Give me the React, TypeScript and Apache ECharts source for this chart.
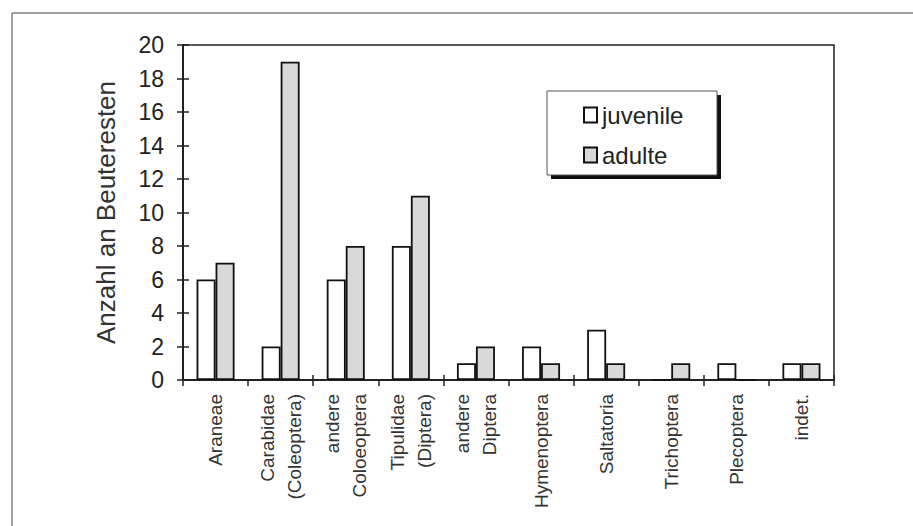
import React, { useEffect, useRef } from "react";
import * as echarts from "echarts";

const categories = [
  "Araneae",
  "Carabidae\n(Coleoptera)",
  "andere\nColoeoptera",
  "Tipulidae\n(Diptera)",
  "andere\nDiptera",
  "Hymenoptera",
  "Saltatoria",
  "Trichoptera",
  "Plecoptera",
  "indet.",
];
const juvenile = [6, 2, 6, 8, 1, 2, 3, 0, 1, 1];
const adulte = [7, 19, 8, 11, 2, 1, 1, 1, 0, 1];
const seriesNames = ["juvenile", "adulte"];
const yAxisName = "Anzahl an Beuteresten";
const yMin = 0;
const yMax = 20;
const yInterval = 2;

const FONT = "'Liberation Sans', Arial, sans-serif";

export default function App() {
  const ref = useRef<HTMLDivElement>(null);
  useEffect(() => {
    if (!ref.current) return;
    const chart = echarts.init(ref.current, null, { renderer: "svg" });
    chart.setOption({
      animation: false,
      backgroundColor: "#ffffff",
      grid: {
        left: 183,
        top: 45,
        right: 79,
        bottom: 146,
        show: true,
        borderColor: "#222",
        borderWidth: 1.5,
        backgroundColor: "transparent",
      },
      legend: {
        data: seriesNames,
        orient: "vertical",
        left: 578,
        top: 98,
        itemWidth: 13,
        itemHeight: 15,
        itemGap: 16,
        icon: "rect",
        textStyle: { fontFamily: FONT, fontSize: 24, color: "#222", padding: [0, 0, 0, 0] },
        z: 10,
      },
      xAxis: [
        {
          type: "category",
          data: categories,
          position: "bottom",
          axisLine: { show: true, lineStyle: { color: "#222", width: 2 } },
          axisTick: { show: true, inside: false, length: 6, lineStyle: { color: "#222", width: 1.5 } },
          axisLabel: {
            rotate: 90,
            interval: 0,
            margin: 14,
            fontFamily: FONT,
            fontSize: 19,
            color: "#333",
            lineHeight: 27,
          },
          splitLine: { show: false },
        },
        {
          type: "category",
          data: categories,
          position: "bottom",
          axisLine: { show: false },
          axisTick: { show: true, inside: true, length: 5, lineStyle: { color: "#222", width: 1.5 } },
          axisLabel: { show: false },
          splitLine: { show: false },
        },
      ],
      yAxis: [
        {
          type: "value",
          min: yMin,
          max: yMax,
          interval: yInterval,
          position: "left",
          name: yAxisName,
          nameLocation: "middle",
          nameGap: 64,
          nameTextStyle: { fontFamily: FONT, fontSize: 26, color: "#333" },
          axisLine: { show: true, lineStyle: { color: "#222", width: 2 } },
          axisTick: { show: true, inside: false, length: 6, lineStyle: { color: "#222", width: 1.5 } },
          axisLabel: { fontFamily: FONT, fontSize: 23, color: "#222", margin: 19 },
          splitLine: { show: false },
        },
        {
          type: "value",
          min: yMin,
          max: yMax,
          interval: yInterval,
          position: "left",
          axisLine: { show: false },
          axisTick: { show: true, inside: true, length: 6, lineStyle: { color: "#222", width: 1.5 } },
          axisLabel: { show: false },
          splitLine: { show: false },
        },
      ],
      series: [
        {
          name: seriesNames[0],
          type: "bar",
          data: juvenile,
          xAxisIndex: 0,
          yAxisIndex: 0,
          barWidth: 19,
          barGap: "0%",
          itemStyle: { color: "#ffffff", borderColor: "#111", borderWidth: 1.8 },
        },
        {
          name: seriesNames[1],
          type: "bar",
          data: adulte,
          xAxisIndex: 0,
          yAxisIndex: 0,
          barWidth: 19,
          barGap: "0%",
          itemStyle: { color: "#d9d9d9", borderColor: "#111", borderWidth: 1.8 },
        },
      ],
      graphic: [
        {
          type: "line",
          shape: { x1: 12, y1: 13, x2: 913, y2: 13 },
          style: { stroke: "#a0a0a0", lineWidth: 2 },
          z: 0,
        },
        {
          type: "line",
          shape: { x1: 12, y1: 13, x2: 12, y2: 526 },
          style: { stroke: "#a0a0a0", lineWidth: 2 },
          z: 0,
        },
        {
          type: "rect",
          shape: { x: 551, y: 95, width: 170, height: 84 },
          style: { fill: "#111" },
          z: 1,
        },
        {
          type: "rect",
          shape: { x: 547, y: 91, width: 170, height: 84 },
          style: { fill: "#fff", stroke: "#555", lineWidth: 1 },
          z: 1,
        },
      ],
    });
    return () => chart.dispose();
  }, []);
  return (
    <div
      ref={ref}
      style={{ position: "fixed", left: 0, top: 0, width: 913, height: 526 }}
    />
  );
}
